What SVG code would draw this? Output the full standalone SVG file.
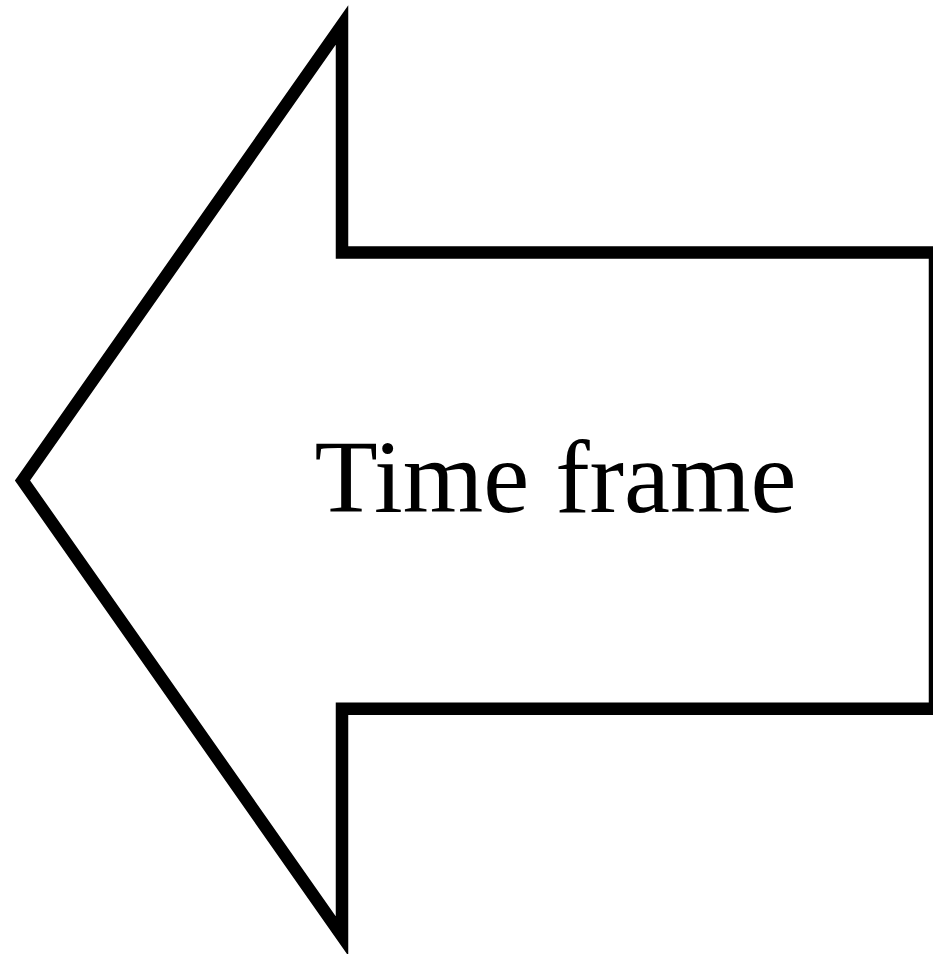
<svg xmlns="http://www.w3.org/2000/svg" width="933" height="954" viewBox="0 0 933 954">
<style>
.arrow{fill:#fff;stroke:#000;stroke-width:12.5;stroke-linejoin:miter;stroke-miterlimit:10}
.label{font-family:"Liberation Serif","Times New Roman",serif;font-size:103.5px;fill:#000}
</style>
<rect width="933" height="954" fill="#fff"/>
<g id="arrow-node">
<polygon class="arrow" points="22.5,480.5 342,25 342,252.5 935,252.5 935,708.7 342,708.7 342,936"/>
<text class="label" x="555.5" y="511.5" text-anchor="middle">Time frame</text>
</g>
<g id="connectors"/>
</svg>
